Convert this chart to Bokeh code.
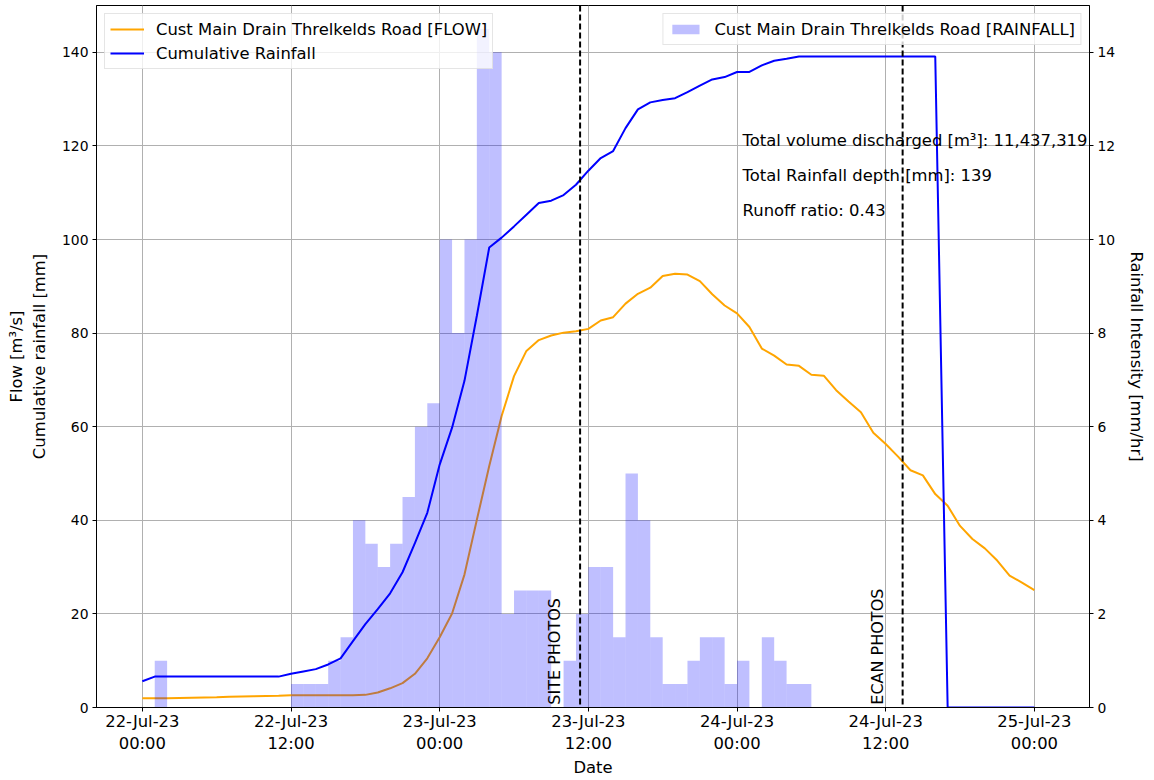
import numpy as np
import pandas as pd
from bokeh.plotting import figure
from bokeh.models import (Range1d, LinearAxis, FixedTicker, DatetimeTickFormatter, Legend,
                          LegendItem, Span, ColumnDataSource, SingleIntervalTicker)
from bokeh.embed import file_html
from bokeh.resources import INLINE
from bokeh.core.properties import value

# ---------------- data ----------------
start_time = "2023-07-22 00:00"

# hourly flow [m3/s], hour 0 .. 72
flow = [2.0, 2.0, 2.0, 2.05, 2.1, 2.15, 2.2, 2.3, 2.35, 2.4, 2.45, 2.5,
        2.6, 2.6, 2.6, 2.6, 2.6, 2.6, 2.7, 3.2, 4.1, 5.2, 7.2, 10.5,
        15.0, 20.1, 28.4, 40.1, 51.6, 62.3, 70.8, 76.2, 78.5, 79.5, 80.1, 80.4,
        80.9, 82.7, 83.4, 86.3, 88.4, 89.7, 92.2, 92.7, 92.5, 91.1, 88.3, 85.9,
        84.2, 81.3, 76.7, 75.2, 73.3, 73.0, 71.1, 70.9, 67.8, 65.4, 63.1, 58.7,
        56.3, 53.6, 50.7, 49.6, 45.6, 43.1, 38.8, 36.0, 34.0, 31.4, 28.2, 26.7,
        25.1]

# hourly cumulative rainfall [mm], hour 0 .. 72
cum_rain = [5.6, 6.6, 6.6, 6.6, 6.6, 6.6, 6.6, 6.6, 6.6, 6.6, 6.6, 6.6,
            7.2, 7.7, 8.2, 9.2, 10.5, 14.2, 17.8, 21.0, 24.4, 28.9, 35.1, 41.6,
            51.9, 59.8, 69.8, 83.7, 98.3, 100.4, 102.8, 105.3, 107.8, 108.3, 109.5, 111.7,
            114.7, 117.4, 118.9, 123.8, 127.8, 129.3, 129.8, 130.2, 131.5, 132.9, 134.2, 134.7,
            135.8, 135.8, 137.2, 138.2, 138.6, 139.1, 139.1, 139.1, 139.1, 139.1, 139.1, 139.1,
            139.1, 139.1, 139.1, 139.1, 139.1, 0.0, 0.0, 0.0, 0.0, 0.0, 0.0, 0.0,
            0.0]

# rainfall intensity bars [mm/hr], by hour-of-record (hours since start)
rain_hour = [1, 12, 13, 14, 15, 16, 17, 18, 19, 20, 21, 22, 23, 24, 25, 26, 27, 28,
             29, 30, 31, 32, 34, 35, 36, 37, 38, 39, 40, 41, 42, 43, 44, 45, 46, 47,
             48, 50, 51, 52, 53]
rain_int = [1.0, 0.5, 0.5, 0.5, 1.0, 1.5, 4.0, 3.5, 3.0, 3.5, 4.5, 6.0, 6.5, 10.0, 8.0, 10.0, 14.5, 14.0,
            2.0, 2.5, 2.5, 2.5, 1.0, 2.0, 3.0, 3.0, 1.5, 5.0, 4.0, 1.5, 0.5, 0.5, 1.0, 1.5, 1.5, 0.5,
            1.0, 1.5, 1.0, 0.5, 0.5]

event_labels = ["SITE PHOTOS", "ECAN PHOTOS"]
event_times = ["2023-07-23 11:20", "2023-07-24 13:22"]

stats_lines = ["Total volume discharged [m\u00b3]: 11,437,319",
               "Total Rainfall depth [mm]: 139",
               "Runoff ratio: 0.43"]
stats_y = [121.2, 113.7, 106.2]
stats_hour = 48.45

tick_times = ["2023-07-22 00:00", "2023-07-22 12:00", "2023-07-23 00:00", "2023-07-23 12:00",
              "2023-07-24 00:00", "2023-07-24 12:00", "2023-07-25 00:00"]

flow_label = "Cust Main Drain Threlkelds Road [FLOW]"
cum_label = "Cumulative Rainfall"
rain_label = "Cust Main Drain Threlkelds Road [RAINFALL]"
right_axis_title = "Rainfall Intensity [mm/hr]"

# ---------------- build ----------------
FONT = "DejaVu Sans"
FS_BIG = "16.4px"
FS_TICK = "13.9px"

t0 = pd.Timestamp(start_time)
hrs = pd.to_timedelta(np.arange(len(flow)), unit="h")
t_line = t0 + hrs
t_bar = t0 + pd.to_timedelta(np.array(rain_hour, dtype=float) + 0.5, unit="h")

line_src = ColumnDataSource(dict(t=t_line, flow=flow, cum=cum_rain))
bar_src = ColumnDataSource(dict(t=t_bar, rain=rain_int))

x_range = Range1d(t0 - pd.Timedelta(hours=3.7), t0 + pd.Timedelta(hours=76.45))

p = figure(width=1149, height=780, x_axis_type="datetime", x_range=x_range,
           y_range=Range1d(0, 150), output_backend="svg", toolbar_location=None,
           min_border_left=96, min_border_right=59, min_border_top=5, min_border_bottom=40)
p.extra_y_ranges = {"rain": Range1d(0, 15)}

p.outline_line_color = "black"
p.outline_line_width = 1
p.background_fill_color = "white"
p.border_fill_color = "white"

tick_ms = [pd.Timestamp(s).value / 1e6 for s in tick_times]
p.xaxis.ticker = FixedTicker(ticks=tick_ms)
fmt = "%d-%b-%y\n%H:%M"
p.xaxis.formatter = DatetimeTickFormatter(
    microseconds=fmt, milliseconds=fmt, seconds=fmt, minsec=fmt, minutes=fmt,
    hourmin=fmt, hours=fmt, days=fmt, months=fmt, years=fmt, context=None)
p.xgrid.ticker = FixedTicker(ticks=tick_ms)
p.yaxis.ticker = SingleIntervalTicker(interval=20)

p.xaxis.axis_label = "Date"
p.yaxis.axis_label = "Flow [m\u00b3/s]\nCumulative rainfall [mm]"

r_flow = p.line("t", "flow", source=line_src, color="orange", line_width=2)
r_cum = p.line("t", "cum", source=line_src, color="blue", line_width=2)
r_bar = p.vbar(x="t", top="rain", width=3600000, source=bar_src, y_range_name="rain",
               fill_color="blue", fill_alpha=0.25, line_color=None)

right_axis = LinearAxis(y_range_name="rain", axis_label=right_axis_title,
                        ticker=SingleIntervalTicker(interval=2))
p.add_layout(right_axis, "right")

for ax in [p.xaxis[0], p.yaxis[0], right_axis]:
    ax.axis_label_text_font = FONT
    ax.axis_label_text_font_size = FS_BIG
    ax.axis_label_text_font_style = "normal"
    ax.axis_label_text_color = "black"
    ax.major_label_text_font = FONT
    ax.major_label_text_font_size = FS_TICK
    ax.major_label_text_color = "black"
    ax.axis_line_color = "black"
    ax.major_tick_line_color = "black"
    ax.major_tick_out = 4
    ax.major_tick_in = 0
    ax.minor_tick_line_color = None
    ax.axis_label_standoff = 6
    ax.major_label_standoff = 4

p.xaxis[0].major_label_text_font_size = FS_BIG
p.xaxis[0].major_label_standoff = 0
p.xaxis[0].axis_label_standoff = 2
p.yaxis[0].axis_label_standoff = 10
right_axis.axis_label_standoff = 9

for g in [p.xgrid[0], p.ygrid[0]]:
    g.grid_line_color = "#b0b0b0"
    g.grid_line_width = 1

for lab, tm in zip(event_labels, event_times):
    p.add_layout(Span(location=pd.Timestamp(tm), dimension="height", line_color="black",
                      line_dash="6 3", line_width=2))

ev_src = ColumnDataSource(dict(t=[pd.Timestamp(s) for s in event_times],
                               y=[0.6] * len(event_times), text=event_labels))
p.text(x="t", y="y", text="text", source=ev_src, angle=np.pi / 2, text_align="left",
       text_baseline="bottom", x_offset=-16, text_font=value(FONT), text_font_size="16px",
       text_color="black")

st_src = ColumnDataSource(dict(t=[t0 + pd.Timedelta(hours=stats_hour)] * len(stats_lines),
                               y=stats_y, text=stats_lines))
p.text(x="t", y="y", text="text", source=st_src, text_align="left", text_baseline="middle",
       text_font=value(FONT), text_font_size=FS_BIG, text_color="black")

def style_legend(lg):
    lg.label_text_font = FONT
    lg.label_text_font_size = FS_BIG
    lg.label_text_color = "black"
    lg.border_line_color = "#cccccc"
    lg.border_line_width = 1
    lg.background_fill_alpha = 0.8
    lg.glyph_width = 34
    lg.glyph_height = 12
    lg.label_height = 20
    lg.label_standoff = 12
    lg.spacing = 4
    lg.padding = 5
    lg.margin = 8

leg1 = Legend(items=[LegendItem(label=flow_label, renderers=[r_flow]),
                     LegendItem(label=cum_label, renderers=[r_cum])],
              location="top_left")
leg2 = Legend(items=[LegendItem(label=rain_label, renderers=[r_bar])], location="top_right")
style_legend(leg1)
style_legend(leg2)
p.add_layout(leg1)
p.add_layout(leg2)

open("out.html", "w").write(file_html(p, INLINE))
